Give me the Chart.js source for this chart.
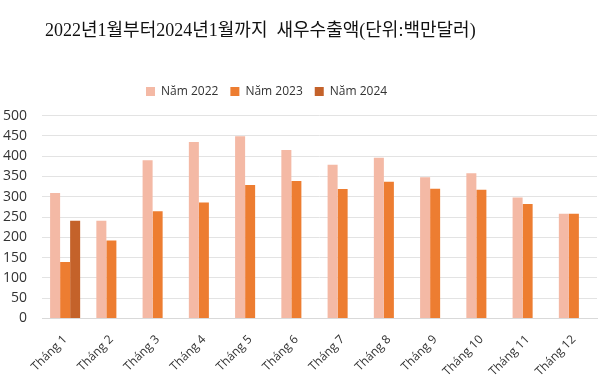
<!DOCTYPE html>
<html>
<head>
<meta charset="utf-8">
<script src="https://cdn.jsdelivr.net/npm/chart.js@4"></script>
<style>
  html, body { margin: 0; padding: 0; background: #fff; }
  #wrap { width: 600px; height: 386px; }
</style>
</head>
<body>
<div id="wrap"><canvas id="chart" width="600" height="386"></canvas></div>
<script>
// dữ liệu (triệu USD)
const months = ['Tháng 1', 'Tháng 2', 'Tháng 3', 'Tháng 4', 'Tháng 5', 'Tháng 6',
                'Tháng 7', 'Tháng 8', 'Tháng 9', 'Tháng 10', 'Tháng 11', 'Tháng 12'];
const nam2022 = [309, 241, 390, 435, 449, 415, 379, 396, 348, 358, 298, 258];
const nam2023 = [139, 192, 264, 286, 329, 339, 319, 337, 320, 317, 282, 258];
const nam2024 = [241, null, null, null, null, null, null, null, null, null, null, null];
const yTicks = [0, 50, 100, 150, 200, 250, 300, 350, 400, 450, 500];

// tiêu đề và chú giải lệch sang trái như ảnh gốc
const tweaks = {
    id: 'tweaks',
    beforeLayout(chart) {
        const lg = chart.legend;
        if (lg && !lg._tall) {
            const fit = lg.fit;
            lg.fit = function () { fit.call(this); this.height += 8; };
            lg._tall = true;
        }
    },
    afterLayout(chart) {
        if (chart.titleBlock) {
            chart.titleBlock.left = 45;
        }
        if (chart.legend) {
            chart.legend.left = 134;
        }
    }
};

const ctx = document.getElementById('chart').getContext('2d');
const chart = new Chart(ctx, {
    type: 'bar',
    data: {
        labels: months,
        datasets: [
            { label: 'Năm 2022', data: nam2022, backgroundColor: '#F4B9A5' },
            { label: 'Năm 2023', data: nam2023, backgroundColor: '#ED7D31' },
            { label: 'Năm 2024', data: nam2024, backgroundColor: '#C4622A' }
        ]
    },
    plugins: [tweaks],
    options: {
        responsive: false,
        animation: false,
        layout: { padding: { left: 0, right: 3, top: 0, bottom: 1 } },
        datasets: {
            bar: { barPercentage: 1, categoryPercentage: 0.65 }
        },
        plugins: {
            title: {
                display: true,
                align: 'start',
                text: '2022년1월부터2024년1월까지  새우수출액(단위:백만달러)',
                color: '#111',
                font: { family: '"Liberation Serif", "Noto Sans CJK KR"', size: 18, weight: 'normal' },
                padding: { top: 20, bottom: 32 }
            },
            legend: {
                align: 'start',
                labels: {
                    boxWidth: 9,
                    boxHeight: 9,
                    color: '#333',
                    font: { family: '"Open Sans"', size: 12 },
                    padding: 12
                }
            },
            tooltip: { enabled: false }
        },
        scales: {
            x: {
                grid: { display: false },
                border: { display: true, color: '#D9D9D9' },
                afterFit: scale => { scale.paddingLeft = 0; scale.paddingRight = 0; },
                ticks: {
                    color: '#333',
                    font: { family: '"Open Sans"', size: 12 },
                    maxRotation: 45,
                    minRotation: 45,
                    padding: 6
                }
            },
            y: {
                min: 0,
                max: 500,
                afterBuildTicks: axis => { axis.ticks = yTicks.map(v => ({ value: v })); },
                afterFit: axis => { axis.width = 42; },
                grid: { color: '#E3E3E3', drawTicks: false },
                border: { display: false },
                ticks: {
                    autoSkip: false,
                    color: '#333',
                    font: { family: '"Open Sans"', size: 14 },
                    padding: 15
                }
            }
        }
    }
});
</script>
</body>
</html>
